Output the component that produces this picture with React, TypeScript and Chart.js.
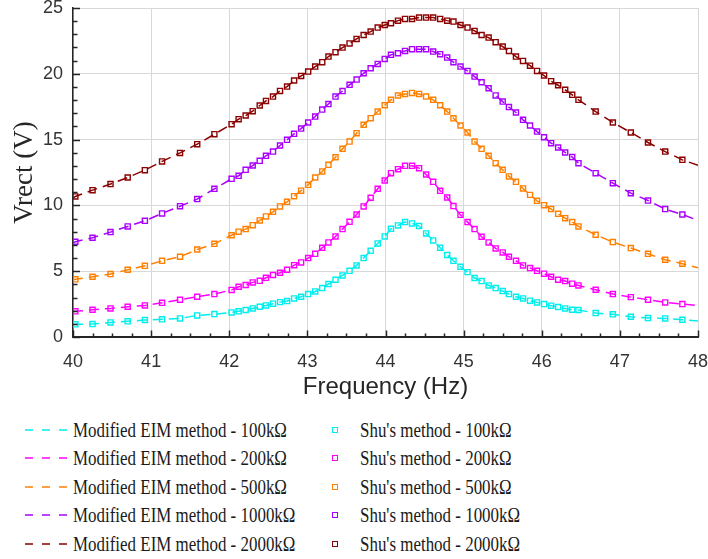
import React, { useEffect, useRef } from 'react';
import { Chart, registerables } from 'chart.js';

Chart.register(...registerables);

// ---- Data ----
const FREQ_HZ = [
  40.03, 40.25, 40.48, 40.70, 40.92, 41.14, 41.37, 41.59, 41.81,
  42.03, 42.12, 42.21, 42.30, 42.39, 42.47, 42.56, 42.65, 42.74, 42.83,
  42.92, 43.01, 43.10, 43.19, 43.27, 43.36, 43.45, 43.54, 43.63, 43.72,
  43.81, 43.90, 43.99, 44.07, 44.16, 44.25, 44.34, 44.43, 44.52, 44.61,
  44.70, 44.79, 44.87, 44.96, 45.05, 45.14, 45.23, 45.32, 45.41, 45.50,
  45.58, 45.67, 45.76, 45.85, 45.94, 46.03, 46.12, 46.21, 46.30, 46.39, 46.47,
  46.69, 46.91, 47.14, 47.36, 47.58, 47.80,
];

const SHU_100K = [
  0.96, 0.98, 1.11, 1.19, 1.29, 1.34, 1.41, 1.64, 1.74,
  1.87, 1.95, 2.05, 2.17, 2.30, 2.40, 2.53, 2.65, 2.73, 2.93,
  3.06, 3.26, 3.46, 3.72, 4.02, 4.35, 4.68, 5.03, 5.44, 6.00,
  6.55, 7.11, 7.64, 8.22, 8.48, 8.73, 8.63, 8.43, 7.87, 7.34,
  6.78, 6.23, 5.79, 5.34, 4.93, 4.48, 4.25, 3.92, 3.72, 3.49,
  3.26, 3.06, 2.93, 2.76, 2.63, 2.50, 2.38, 2.28, 2.17, 2.07, 2.05,
  1.82, 1.72, 1.54, 1.44, 1.41, 1.31,
];

const SHU_200K = [
  1.95, 2.07, 2.17, 2.30, 2.40, 2.60, 2.83, 3.06, 3.26,
  3.58, 3.82, 3.95, 4.15, 4.27, 4.50, 4.71, 4.88, 5.11, 5.46,
  5.67, 6.00, 6.32, 6.78, 7.19, 7.64, 8.20, 8.75, 9.31, 9.92,
  10.58, 11.26, 11.89, 12.45, 12.75, 13.01, 13.01, 12.83, 12.35, 11.79,
  11.11, 10.60, 9.95, 9.28, 8.73, 8.20, 7.62, 7.19, 6.73, 6.43,
  6.10, 5.79, 5.44, 5.24, 5.03, 4.81, 4.58, 4.35, 4.25, 4.05, 3.92,
  3.59, 3.26, 3.03, 2.83, 2.63, 2.50,
];

const SHU_500K = [
  4.38, 4.58, 4.78, 5.11, 5.41, 5.79, 6.10, 6.65, 7.08,
  7.73, 8.00, 8.20, 8.50, 8.86, 9.16, 9.51, 9.92, 10.27, 10.70,
  11.12, 11.56, 12.12, 12.58, 13.08, 13.66, 14.30, 14.85, 15.49, 16.12,
  16.63, 17.13, 17.61, 18.02, 18.35, 18.47, 18.55, 18.47, 18.27, 18.02,
  17.61, 17.13, 16.62, 16.07, 15.54, 14.85, 14.30, 13.77, 13.21, 12.70,
  12.20, 11.79, 11.29, 10.80, 10.35, 10.02, 9.72, 9.36, 9.03, 8.73, 8.40,
  7.77, 7.21, 6.76, 6.32, 5.87, 5.57,
];

const SHU_1000K = [
  7.24, 7.54, 7.97, 8.40, 8.83, 9.39, 9.94, 10.48, 11.26,
  12.02, 12.25, 12.70, 13.03, 13.39, 13.77, 14.09, 14.55, 14.98, 15.44,
  15.84, 16.30, 16.75, 17.28, 17.70, 18.27, 18.69, 19.16, 19.56, 20.04,
  20.42, 20.75, 21.13, 21.44, 21.56, 21.74, 21.87, 21.87, 21.87, 21.69,
  21.49, 21.23, 20.88, 20.55, 20.22, 19.79, 19.36, 18.90, 18.36, 17.89,
  17.47, 17.06, 16.50, 16.07, 15.61, 15.18, 14.73, 14.40, 14.02, 13.67, 13.21,
  12.45, 11.69, 10.93, 10.37, 9.72, 9.31,
];

const SHU_2000K = [
  10.68, 11.16, 11.62, 12.12, 12.68, 13.34, 13.99, 14.65, 15.41,
  16.17, 16.55, 16.83, 17.16, 17.59, 17.94, 18.27, 18.70, 19.03, 19.49,
  19.84, 20.17, 20.55, 20.88, 21.31, 21.64, 21.99, 22.31, 22.65, 22.95,
  23.21, 23.51, 23.71, 23.84, 24.04, 24.17, 24.17, 24.27, 24.27, 24.27,
  24.17, 24.04, 23.97, 23.71, 23.51, 23.26, 22.95, 22.75, 22.40, 22.07,
  21.74, 21.31, 20.98, 20.62, 20.22, 19.87, 19.44, 19.13, 18.78, 18.40, 18.02,
  17.13, 16.30, 15.54, 14.78, 14.09, 13.46,
];

// Modified EIM curves extend to the axis ends (40 Hz and 48 Hz)
const EIM_EDGE_FREQ = [40, 48];
const EIM_START = [0.95, 1.93, 4.33, 7.15, 10.55];
const EIM_END = [1.21, 2.38, 5.26, 8.86, 13.05];

const LOADS = ['100k\u03A9', '200k\u03A9', '500k\u03A9', '1000k\u03A9', '2000k\u03A9'];
const SHU_SERIES = [SHU_100K, SHU_200K, SHU_500K, SHU_1000K, SHU_2000K];
const COLORS = ['#00EEEE', '#FF00FF', '#FF8000', '#AA00FF', '#8B0000'];

const X_TICKS = [40, 41, 42, 43, 44, 45, 46, 47, 48];
const Y_TICKS = [0, 5, 10, 15, 20, 25];

const SANS = "'Liberation Sans', Arial, sans-serif";
const SERIF = "'Liberation Serif', 'Times New Roman', serif";

const inwardTicks = {
  id: 'inwardTicks',
  afterDatasetsDraw(chart: any) {
    const { ctx, chartArea, scales } = chart;
    const x = scales.x;
    const y = scales.y;
    ctx.save();
    ctx.strokeStyle = '#262626';
    ctx.lineWidth = 1.5;
    for (let i = 0; i <= 32; i++) {
      const v = 40 + i * 0.25;
      const px = Math.round(x.getPixelForValue(v)) + 0.5;
      const len = i % 4 === 0 ? 6.5 : 3.5;
      ctx.beginPath();
      ctx.moveTo(px, chartArea.bottom);
      ctx.lineTo(px, chartArea.bottom - len);
      ctx.stroke();
    }
    for (let v = 0; v <= 25; v++) {
      const py = Math.round(y.getPixelForValue(v)) + 0.5;
      const len = v % 5 === 0 ? 7 : 4.5;
      ctx.beginPath();
      ctx.moveTo(chartArea.left, py);
      ctx.lineTo(chartArea.left + len, py);
      ctx.stroke();
    }
    ctx.restore();
  },
};

export default function App() {
  const ref = useRef<HTMLCanvasElement | null>(null);

  useEffect(() => {
    if (!ref.current) return;
    const datasets: any[] = [];
    SHU_SERIES.forEach((vals, i) => {
      const pts = FREQ_HZ.map((f, j) => ({ x: f, y: vals[j] }));
      datasets.push({
        label: 'Modified EIM method - ' + LOADS[i],
        data: [{ x: EIM_EDGE_FREQ[0], y: EIM_START[i] }, ...pts, { x: EIM_EDGE_FREQ[1], y: EIM_END[i] }],
        showLine: true,
        borderColor: COLORS[i],
        borderWidth: 1.5,
        borderDash: [10, 6],
        pointRadius: 0,
        tension: 0,
        order: 1,
      });
      datasets.push({
        label: "Shu's method - " + LOADS[i],
        data: pts,
        showLine: false,
        pointStyle: 'rect',
        pointRadius: 3.6,
        borderWidth: 1.4,
        borderColor: COLORS[i],
        backgroundColor: 'rgba(255,255,255,0)',
        order: 0,
      });
    });

    const chart = new Chart(ref.current, {
      type: 'scatter',
      data: { datasets },
      options: {
        animation: false,
        responsive: false,
        devicePixelRatio: 1,
        events: [],
        layout: { padding: { top: 8, right: 10, left: 0, bottom: 0 } },
        plugins: { legend: { display: false }, tooltip: { enabled: false } },
        scales: {
          x: {
            type: 'linear',
            min: 40,
            max: 48,
            afterBuildTicks: (s: any) => { s.ticks = X_TICKS.map((v) => ({ value: v })); },
            afterFit: (s: any) => { s.height = 65; s.paddingLeft = 0; s.paddingRight = 0; },
            ticks: { color: '#333333', font: { family: SANS, size: 18 }, padding: 14, maxRotation: 0 },
            grid: { color: '#d8d8d8', lineWidth: 1, drawTicks: false },
            border: { display: true, color: '#262626', width: 2 },
            title: { display: true, text: 'Frequency (Hz)', color: '#262626', font: { family: SANS, size: 24 }, padding: { top: 0, bottom: 0 } },
          },
          y: {
            type: 'linear',
            min: 0,
            max: 25,
            afterBuildTicks: (s: any) => { s.ticks = Y_TICKS.map((v) => ({ value: v })); },
            afterFit: (s: any) => { s.width = 73; s.paddingTop = 0; s.paddingBottom = 0; },
            ticks: { color: '#333333', font: { family: SANS, size: 18 }, padding: 10 },
            grid: { color: '#d8d8d8', lineWidth: 1, drawTicks: false },
            border: { display: true, color: '#262626', width: 1.5 },
            title: { display: true, text: 'Vrect (V)', color: '#262626', font: { family: SERIF, size: 27 }, padding: { top: 9, bottom: 0 } },
          },
        },
      },
      plugins: [inwardTicks],
    });
    return () => chart.destroy();
  }, []);

  const rowTops = [0, 1, 2, 3, 4].map((i) => 415.5 + i * 28.5);

  return (
    <div style={{ position: 'fixed', left: 0, top: 0, width: 708, height: 559, background: '#ffffff', overflow: 'hidden' }}>
      <canvas ref={ref} width={708} height={402} style={{ position: 'absolute', left: 0, top: 0, width: 708, height: 402 }} />
      {LOADS.map((load, i) => (
        <React.Fragment key={load}>
          <svg style={{ position: 'absolute', left: 24, top: rowTops[i], width: 46, height: 28 }} width={46} height={28}>
            <line x1={1} y1={14} x2={44} y2={14} stroke={COLORS[i]} strokeWidth={1.5} strokeDasharray="8 9" />
          </svg>
          <div style={{ position: 'absolute', left: 73, top: rowTops[i], height: 28, lineHeight: '28px', fontFamily: SERIF, fontSize: 22, color: '#1a1a1a', whiteSpace: 'nowrap', transform: 'scaleX(0.77)', transformOrigin: 'left center' }}>
            {'Modified EIM method - ' + load}
          </div>
          <div style={{ position: 'absolute', left: 332, top: rowTops[i] + 11, width: 4, height: 4, border: '1.3px solid ' + COLORS[i] }} />
          <div style={{ position: 'absolute', left: 360, top: rowTops[i], height: 28, lineHeight: '28px', fontFamily: SERIF, fontSize: 22, color: '#1a1a1a', whiteSpace: 'nowrap', transform: 'scaleX(0.77)', transformOrigin: 'left center' }}>
            {"Shu's method - " + load}
          </div>
        </React.Fragment>
      ))}
    </div>
  );
}
